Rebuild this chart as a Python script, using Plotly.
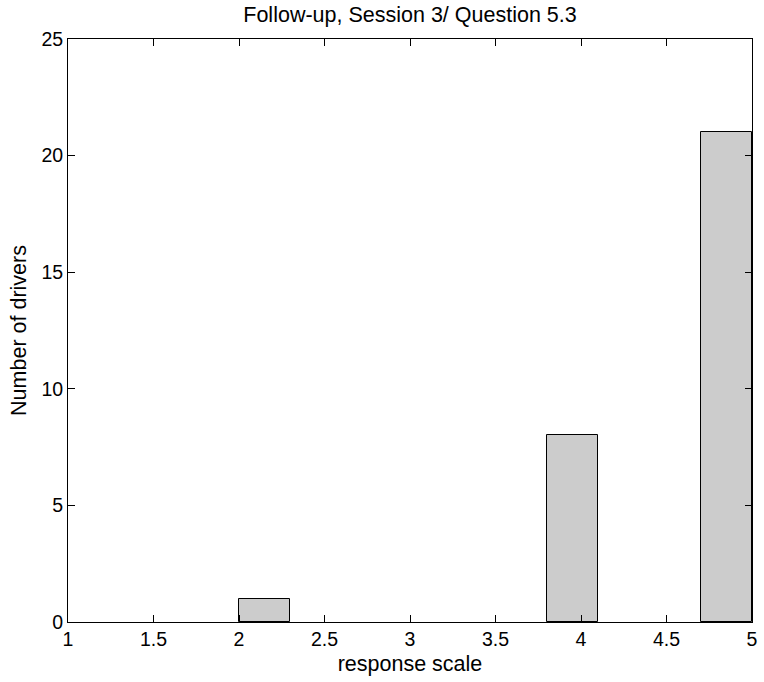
import numpy as np
import plotly.graph_objects as go

# Histogram of driver responses: 10 equal bins spanning the observed range 2..5
bin_edges = np.linspace(2.0, 5.0, 11)
bin_counts = [1, 0, 0, 0, 0, 0, 8, 0, 0, 21]

x_ticks = [1, 1.5, 2, 2.5, 3, 3.5, 4, 4.5, 5]
x_tick_text = ["1", "1.5", "2", "2.5", "3", "3.5", "4", "4.5", "5"]
y_ticks = [0, 5, 10, 15, 20, 25]

title_text = "Follow-up, Session 3/ Question 5.3"
x_label = "response scale"
y_label = "Number of drivers"

centers = (bin_edges[:-1] + bin_edges[1:]) / 2
widths = np.diff(bin_edges)
# empty bins get no outline so the baseline stays a single thin line
edge_widths = [1 if c > 0 else 0 for c in bin_counts]

font_family = "Liberation Sans, Arial, sans-serif"

fig = go.Figure(
    go.Bar(
        x=centers,
        y=bin_counts,
        width=widths,
        marker=dict(color="#cccccc", line=dict(color="#000000", width=edge_widths)),
        showlegend=False,
    )
)

axis_common = dict(
    showline=True,
    linecolor="#000000",
    linewidth=1,
    mirror="ticks",
    ticks="inside",
    ticklen=7,
    tickwidth=1,
    tickcolor="#000000",
    showgrid=False,
    zeroline=False,
    tickfont=dict(family=font_family, size=19.5, color="#000000"),
)

fig.update_xaxes(
    range=[1, 5],
    tickvals=x_ticks,
    ticktext=x_tick_text,
    title=dict(text=x_label, font=dict(family=font_family, size=21.5, color="#000000"), standoff=6),
    **axis_common,
)
fig.update_yaxes(
    range=[0, 25],
    tickvals=y_ticks,
    title=dict(text=y_label, font=dict(family=font_family, size=21.5, color="#000000"), standoff=8),
    **axis_common,
)

fig.update_layout(
    width=764,
    height=682,
    margin=dict(l=68, r=6, t=39, b=60),
    paper_bgcolor="#ffffff",
    plot_bgcolor="#ffffff",
    bargap=0,
    title=dict(
        text=title_text,
        font=dict(family=font_family, size=21.5, color="#000000"),
        x=0.5,
        xref="paper",
        xanchor="center",
        y=1 - 14.5 / 682,
        yref="container",
        yanchor="middle",
    ),
)

fig.write_html("out.html")
